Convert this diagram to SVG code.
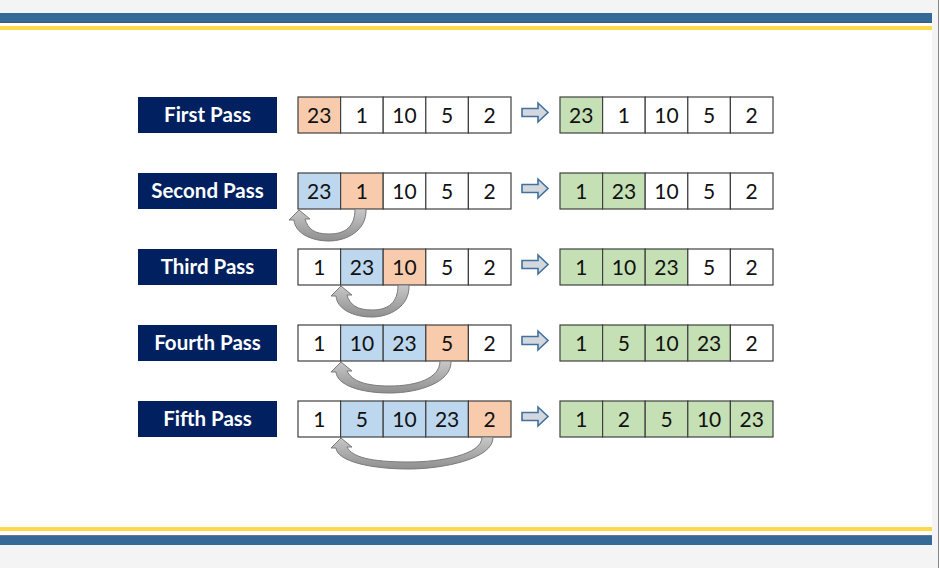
<svg xmlns="http://www.w3.org/2000/svg" width="939" height="568" viewBox="0 0 939 568">
<defs>
<style>
.lbl rect{fill:#002060}
.lbl text{fill:#fff;font-family:Lato,"Open Sans",sans-serif;font-weight:bold;font-size:20.5px;text-anchor:middle}
.c{stroke:#404040;stroke-width:1.2}
.w{fill:#fff}.o{fill:#f8cbad}.b{fill:#bdd7ee}.g{fill:#c5e0b4}
.n{font-family:Lato,"Open Sans",sans-serif;font-size:21px;fill:#111;text-anchor:middle}
.blk{fill:#d3d8df;stroke:#41719c;stroke-width:1.6}
.curve{fill:url(#gr);stroke:#7a7a7a;stroke-width:1}
</style>
<linearGradient id="gr" x1="0" y1="0" x2="0" y2="1">
<stop offset="0" stop-color="#c8c8c8"/>
<stop offset="1" stop-color="#8f8f8f"/>
</linearGradient>
</defs>
<rect width="939" height="568" fill="#f4f4f4"/>
<rect x="0" y="23" width="932" height="513" fill="#fff"/>
<rect x="0" y="13" width="932" height="10" fill="#336a98"/>
<rect x="0" y="22" width="932" height="1" fill="#44586a"/>
<rect x="0" y="26" width="932" height="4" fill="#fdd84a"/>
<rect x="0" y="527" width="932" height="4" fill="#fdd84a"/>
<rect x="0" y="535" width="932" height="1" fill="#6b7784"/>
<rect x="0" y="536" width="932" height="9" fill="#336a98"/>
<rect x="938" y="0" width="1" height="568" fill="#888"/>

<g id="label1" class="lbl"><rect x="138" y="97" width="139" height="36"/><text x="207.5" y="122">First Pass</text></g>
<g id="label2" class="lbl"><rect x="138" y="173" width="139" height="36"/><text x="207.5" y="198">Second Pass</text></g>
<g id="label3" class="lbl"><rect x="138" y="249" width="139" height="36"/><text x="207.5" y="274">Third Pass</text></g>
<g id="label4" class="lbl"><rect x="138" y="325" width="139" height="36"/><text x="207.5" y="350">Fourth Pass</text></g>
<g id="label5" class="lbl"><rect x="138" y="401" width="139" height="36"/><text x="207.5" y="426">Fifth Pass</text></g>

<g id="row1-before">
<rect class="c o" x="298" y="97" width="42.6" height="36"/><rect class="c w" x="340.6" y="97" width="42.6" height="36"/><rect class="c w" x="383.2" y="97" width="42.6" height="36"/><rect class="c w" x="425.8" y="97" width="42.6" height="36"/><rect class="c w" x="468.4" y="97" width="42.6" height="36"/>
<text class="n" x="319.3" y="122.5">23</text><text class="n" x="361.9" y="122.5">1</text><text class="n" x="404.5" y="122.5">10</text><text class="n" x="447.1" y="122.5">5</text><text class="n" x="489.7" y="122.5">2</text>
</g>
<g id="row1-after">
<rect class="c g" x="560" y="97" width="42.6" height="36"/><rect class="c w" x="602.6" y="97" width="42.6" height="36"/><rect class="c w" x="645.2" y="97" width="42.6" height="36"/><rect class="c w" x="687.8" y="97" width="42.6" height="36"/><rect class="c w" x="730.4" y="97" width="42.6" height="36"/>
<text class="n" x="581.3" y="122.5">23</text><text class="n" x="623.9" y="122.5">1</text><text class="n" x="666.5" y="122.5">10</text><text class="n" x="709.1" y="122.5">5</text><text class="n" x="751.7" y="122.5">2</text>
</g>

<g id="row2-before">
<rect class="c b" x="298" y="173" width="42.6" height="36"/><rect class="c o" x="340.6" y="173" width="42.6" height="36"/><rect class="c w" x="383.2" y="173" width="42.6" height="36"/><rect class="c w" x="425.8" y="173" width="42.6" height="36"/><rect class="c w" x="468.4" y="173" width="42.6" height="36"/>
<text class="n" x="319.3" y="198.5">23</text><text class="n" x="361.9" y="198.5">1</text><text class="n" x="404.5" y="198.5">10</text><text class="n" x="447.1" y="198.5">5</text><text class="n" x="489.7" y="198.5">2</text>
</g>
<g id="row2-after">
<rect class="c g" x="560" y="173" width="42.6" height="36"/><rect class="c g" x="602.6" y="173" width="42.6" height="36"/><rect class="c w" x="645.2" y="173" width="42.6" height="36"/><rect class="c w" x="687.8" y="173" width="42.6" height="36"/><rect class="c w" x="730.4" y="173" width="42.6" height="36"/>
<text class="n" x="581.3" y="198.5">1</text><text class="n" x="623.9" y="198.5">23</text><text class="n" x="666.5" y="198.5">10</text><text class="n" x="709.1" y="198.5">5</text><text class="n" x="751.7" y="198.5">2</text>
</g>

<g id="row3-before">
<rect class="c w" x="298" y="249" width="42.6" height="36"/><rect class="c b" x="340.6" y="249" width="42.6" height="36"/><rect class="c o" x="383.2" y="249" width="42.6" height="36"/><rect class="c w" x="425.8" y="249" width="42.6" height="36"/><rect class="c w" x="468.4" y="249" width="42.6" height="36"/>
<text class="n" x="319.3" y="274.5">1</text><text class="n" x="361.9" y="274.5">23</text><text class="n" x="404.5" y="274.5">10</text><text class="n" x="447.1" y="274.5">5</text><text class="n" x="489.7" y="274.5">2</text>
</g>
<g id="row3-after">
<rect class="c g" x="560" y="249" width="42.6" height="36"/><rect class="c g" x="602.6" y="249" width="42.6" height="36"/><rect class="c g" x="645.2" y="249" width="42.6" height="36"/><rect class="c w" x="687.8" y="249" width="42.6" height="36"/><rect class="c w" x="730.4" y="249" width="42.6" height="36"/>
<text class="n" x="581.3" y="274.5">1</text><text class="n" x="623.9" y="274.5">10</text><text class="n" x="666.5" y="274.5">23</text><text class="n" x="709.1" y="274.5">5</text><text class="n" x="751.7" y="274.5">2</text>
</g>

<g id="row4-before">
<rect class="c w" x="298" y="325" width="42.6" height="36"/><rect class="c b" x="340.6" y="325" width="42.6" height="36"/><rect class="c b" x="383.2" y="325" width="42.6" height="36"/><rect class="c o" x="425.8" y="325" width="42.6" height="36"/><rect class="c w" x="468.4" y="325" width="42.6" height="36"/>
<text class="n" x="319.3" y="350.5">1</text><text class="n" x="361.9" y="350.5">10</text><text class="n" x="404.5" y="350.5">23</text><text class="n" x="447.1" y="350.5">5</text><text class="n" x="489.7" y="350.5">2</text>
</g>
<g id="row4-after">
<rect class="c g" x="560" y="325" width="42.6" height="36"/><rect class="c g" x="602.6" y="325" width="42.6" height="36"/><rect class="c g" x="645.2" y="325" width="42.6" height="36"/><rect class="c g" x="687.8" y="325" width="42.6" height="36"/><rect class="c w" x="730.4" y="325" width="42.6" height="36"/>
<text class="n" x="581.3" y="350.5">1</text><text class="n" x="623.9" y="350.5">5</text><text class="n" x="666.5" y="350.5">10</text><text class="n" x="709.1" y="350.5">23</text><text class="n" x="751.7" y="350.5">2</text>
</g>

<g id="row5-before">
<rect class="c w" x="298" y="401" width="42.6" height="36"/><rect class="c b" x="340.6" y="401" width="42.6" height="36"/><rect class="c b" x="383.2" y="401" width="42.6" height="36"/><rect class="c b" x="425.8" y="401" width="42.6" height="36"/><rect class="c o" x="468.4" y="401" width="42.6" height="36"/>
<text class="n" x="319.3" y="426.5">1</text><text class="n" x="361.9" y="426.5">5</text><text class="n" x="404.5" y="426.5">10</text><text class="n" x="447.1" y="426.5">23</text><text class="n" x="489.7" y="426.5">2</text>
</g>
<g id="row5-after">
<rect class="c g" x="560" y="401" width="42.6" height="36"/><rect class="c g" x="602.6" y="401" width="42.6" height="36"/><rect class="c g" x="645.2" y="401" width="42.6" height="36"/><rect class="c g" x="687.8" y="401" width="42.6" height="36"/><rect class="c g" x="730.4" y="401" width="42.6" height="36"/>
<text class="n" x="581.3" y="426.5">1</text><text class="n" x="623.9" y="426.5">2</text><text class="n" x="666.5" y="426.5">5</text><text class="n" x="709.1" y="426.5">10</text><text class="n" x="751.7" y="426.5">23</text>
</g>

<g id="connectors">
<polygon class="blk" points="522,108.5 538,108.5 538,103 548,112.5 538,122 538,116.5 522,116.5"/>
<polygon class="blk" points="522,184.5 538,184.5 538,179 548,188.5 538,198 538,192.5 522,192.5"/>
<polygon class="blk" points="522,260.5 538,260.5 538,255 548,264.5 538,274 538,268.5 522,268.5"/>
<polygon class="blk" points="522,336.5 538,336.5 538,331 548,340.5 538,350 538,344.5 522,344.5"/>
<polygon class="blk" points="522,412.5 538,412.5 538,407 548,416.5 538,426 538,420.5 522,420.5"/>
<path class="curve" d="M366,209 C367,231 346,241 329,241 C311,241 295,233 294,220 L289,220 L299,210 L310,219 L305,219 C308,229 314,234 329,234 C345,234 355,227 355,209 Z"/>
<path class="curve" d="M409,285 C410,307 389,317 372,317 C353,317 337,309 336,296 L331,296 L341,286 L352,295 L347,295 C350,305 357,310 372,310 C388,310 398,303 398,285 Z"/>
<path class="curve" d="M451,361 C452,383 417,393 390,393 C360,393 337,385 336,372 L331,372 L341,362 L352,371 L347,371 C352,381 365,386 390,386 C415,386 440,379 440,361 Z"/>
<path class="curve" d="M493,437 C494,459 442,469 409,469 C370,469 337,461 336,448 L331,448 L341,438 L352,447 L347,447 C352,457 370,462 409,462 C440,462 482,455 482,437 Z"/>
</g>
</svg>
